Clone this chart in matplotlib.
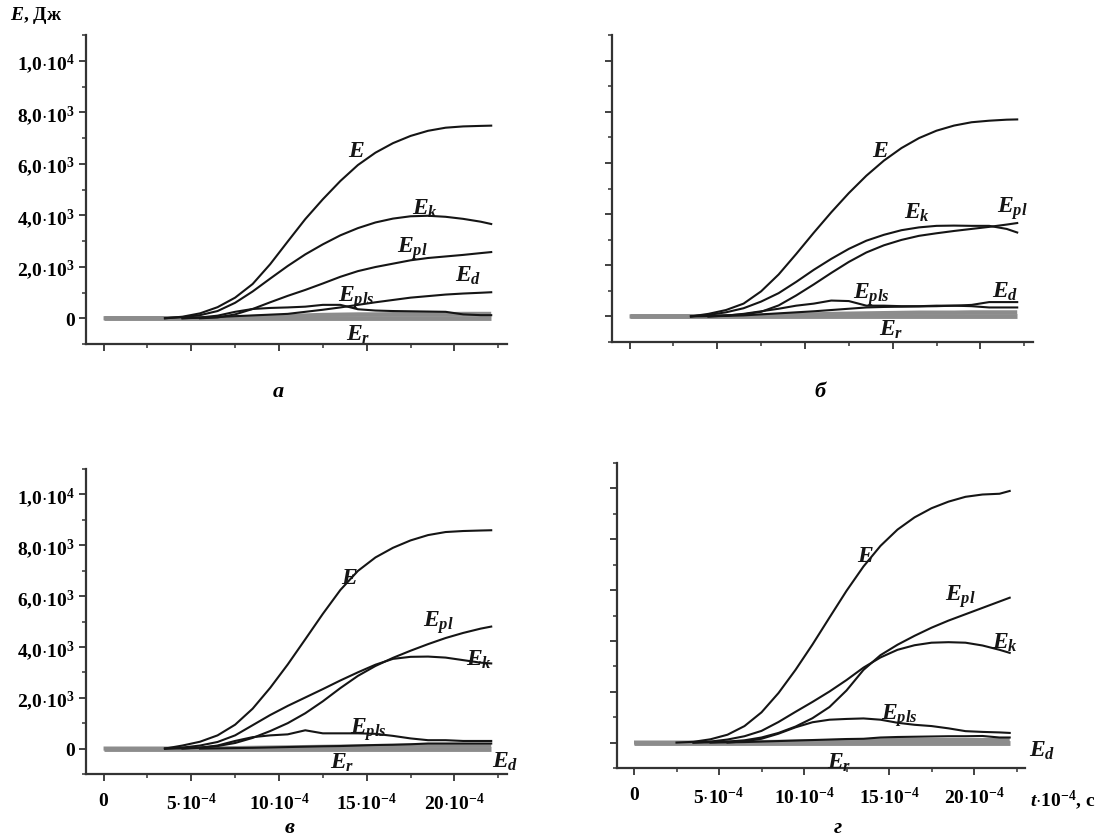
import numpy as np
import matplotlib.pyplot as plt
from matplotlib.ticker import FixedLocator, FixedFormatter, MultipleLocator

plt.rcParams['mathtext.fontset'] = 'custom'
plt.rcParams['mathtext.rm'] = 'Liberation Serif:bold'
plt.rcParams['mathtext.it'] = 'Liberation Serif:italic:bold'
plt.rcParams['mathtext.bf'] = 'Liberation Serif:bold'
plt.rcParams['font.family'] = ['Liberation Serif', 'DejaVu Serif']
plt.rcParams['font.weight'] = 'bold'

# time, 10^-4 s
t = [0, 2.5, 3.5, 4.5, 5.5, 6.5, 7.5, 8.5, 9.5, 10.5, 11.5, 12.5,
     13.5, 14.5, 15.5, 16.5, 17.5, 18.5, 19.5, 20.5, 21.5, 22.1]

# panel а
a_E = [0, 0, 0, 60, 190, 430, 800, 1330, 2100, 2980, 3850, 4620, 5330, 5950, 6430, 6800, 7080, 7280, 7400, 7450, 7470, 7480]
a_Ek = [0, 0, 0, 40, 120, 280, 600, 1040, 1540, 2030, 2480, 2870, 3220, 3500, 3720, 3870, 3960, 3980, 3940, 3860, 3750, 3660]
a_Epl = [0, 0, 0, 0, 0, 30, 150, 360, 620, 870, 1100, 1350, 1610, 1830, 1990, 2120, 2250, 2340, 2400, 2460, 2530, 2570]
a_Ed = [0, 0, 0, 0, 20, 50, 80, 110, 140, 170, 250, 330, 420, 520, 620, 710, 800, 860, 920, 960, 990, 1010]
a_Epls = [0, 0, 0, 0, 30, 100, 250, 360, 400, 420, 450, 520, 520, 350, 300, 280, 270, 260, 250, 150, 120, 120]
a_Er = [0, 0, 0, 0, 0, 10, 30, 50, 70, 90, 110, 130, 140, 150, 150, 160, 160, 160, 160, 170, 170, 170]

# panel б
b_E = [0, 0, 0, 100, 250, 500, 980, 1640, 2440, 3270, 4070, 4820, 5500, 6090, 6580, 6970, 7260, 7460, 7590, 7650, 7690, 7700]
b_Ek = [0, 0, 0, 60, 160, 320, 580, 910, 1350, 1820, 2250, 2640, 2960, 3190, 3370, 3480, 3540, 3550, 3540, 3540, 3420, 3280]
b_Epl = [0, 0, 0, 10, 40, 80, 180, 430, 820, 1250, 1700, 2130, 2500, 2780, 2990, 3150, 3250, 3340, 3420, 3500, 3590, 3650]
b_Ed = [0, 0, 0, 0, 20, 40, 80, 120, 160, 200, 250, 300, 350, 370, 380, 390, 400, 420, 450, 560, 560, 560]
b_Epls = [0, 0, 0, 0, 30, 100, 200, 300, 420, 500, 620, 600, 420, 420, 400, 400, 420, 420, 400, 350, 350, 350]
b_Er = [0, 0, 0, 0, 0, 10, 30, 50, 70, 80, 100, 110, 120, 130, 140, 150, 150, 150, 160, 160, 160, 160]

# panel в
c_E = [0, 0, 0, 120, 270, 520, 940, 1570, 2390, 3310, 4300, 5300, 6240, 6990, 7520, 7900, 8190, 8400, 8520, 8560, 8580, 8590]
c_Ek = [0, 0, 0, 40, 120, 260, 520, 920, 1320, 1680, 2010, 2340, 2680, 3000, 3300, 3530, 3610, 3620, 3580, 3480, 3380, 3350]
c_Epl = [0, 0, 0, 10, 40, 100, 220, 420, 690, 1000, 1390, 1860, 2380, 2860, 3250, 3570, 3850, 4110, 4350, 4550, 4720, 4800]
c_Ed = [0, 0, 0, 0, 0, 10, 20, 30, 45, 60, 75, 90, 100, 120, 140, 150, 170, 200, 200, 200, 200, 200]
c_Epls = [0, 0, 0, 0, 30, 120, 300, 450, 520, 560, 720, 600, 600, 600, 580, 500, 400, 330, 330, 300, 300, 300]
c_Er = [0, 0, 0, 0, 0, 10, 20, 30, 40, 50, 60, 70, 80, 90, 100, 110, 120, 120, 120, 120, 120, 120]

# panel г
d_E = [0, 0, 30, 130, 310, 650, 1190, 1950, 2860, 3860, 4920, 5970, 6930, 7740, 8380, 8860, 9220, 9480, 9670, 9760, 9790, 9900]
d_Ek = [0, 0, 0, 40, 120, 250, 460, 810, 1210, 1600, 2010, 2460, 2950, 3350, 3650, 3830, 3930, 3950, 3930, 3820, 3650, 3530]
d_Epl = [0, 0, 0, 10, 40, 90, 200, 380, 630, 960, 1400, 2050, 2860, 3440, 3850, 4200, 4520, 4800, 5050, 5300, 5550, 5700]
d_Ed = [0, 0, 0, 0, 10, 20, 40, 60, 80, 100, 120, 140, 150, 200, 220, 230, 240, 250, 250, 260, 200, 200]
d_Epls = [0, 0, 0, 0, 0, 50, 150, 350, 600, 800, 900, 930, 950, 900, 780, 700, 650, 560, 450, 420, 400, 380]
d_Er = [0, 0, 0, 0, 0, 10, 20, 30, 40, 50, 60, 70, 80, 90, 100, 100, 100, 100, 100, 100, 100, 100]

names = ['$E$', '$E_k$', '$E_{pl}$', '$E_d$', '$E_{pls}$', '$E_r$']
y_ticks = [0, 2000, 4000, 6000, 8000, 10000]
y_ticklabels = ['0', '$2{,}0{\\cdot}10^{3}$', '$4{,}0{\\cdot}10^{3}$', '$6{,}0{\\cdot}10^{3}$',
                '$8{,}0{\\cdot}10^{3}$', '$1{,}0{\\cdot}10^{4}$']
x_ticks = [0, 5, 10, 15, 20]
x_ticklabels = ['0', '$5{\\cdot}10^{-4}$', '$10{\\cdot}10^{-4}$', '$15{\\cdot}10^{-4}$', '$20{\\cdot}10^{-4}$']

W, H = 1104, 837
fig = plt.figure(figsize=(W / 100, H / 100), dpi=100)


def panel(l, tp, r, b, series, label_pos, show_x, show_y):
    ax = fig.add_axes([l / W, 1 - b / H, (r - l) / W, (b - tp) / H])
    E, Ek, Epl, Ed, Epls, Er = series
    tt = np.array(t)
    ax.plot(tt, np.zeros_like(tt), color='#8c8c8c', lw=3.5, solid_capstyle='butt')
    ax.plot(tt, Er, color='#8c8c8c', lw=3.0, solid_capstyle='butt')
    for s in [Ed, Epls, Epl, Ek, E]:
        s = np.array(s)
        i0 = max(np.argmax(s > 0) - 1, 0)
        ax.plot(tt[i0:], s[i0:], color='#151515', lw=1.5)
    for name, (x, y) in zip(names, label_pos):
        ax.text(x, y, name, fontsize=17, ha='center', va='center', color='#151515')
    ax.set_xlim(-1, 23)
    ax.set_ylim(-1000, 11000)
    for sp in ['top', 'right']:
        ax.spines[sp].set_visible(False)
    for sp in ['left', 'bottom']:
        ax.spines[sp].set_linewidth(1.6)
        ax.spines[sp].set_color('#333333')
    ax.xaxis.set_major_locator(FixedLocator(x_ticks))
    ax.xaxis.set_minor_locator(MultipleLocator(2.5))
    ax.yaxis.set_major_locator(FixedLocator(y_ticks))
    ax.yaxis.set_minor_locator(MultipleLocator(1000))
    ax.tick_params(which='major', direction='out', length=5, width=1.3, color='#333333', labelsize=14)
    ax.tick_params(which='minor', direction='out', length=3, width=1.1, color='#333333')
    if show_x:
        ax.xaxis.set_major_formatter(FixedFormatter(x_ticklabels))
        ax.tick_params(axis='x', pad=8)
    else:
        ax.set_xticklabels([])
    if show_y:
        ax.yaxis.set_major_formatter(FixedFormatter(y_ticklabels))
        ax.tick_params(axis='y', pad=3)
    else:
        ax.set_yticklabels([])
    return ax


panel(86, 36, 507, 345, [a_E, a_Ek, a_Epl, a_Ed, a_Epls, a_Er],
      [(14.4, 6500), (18.3, 4300), (17.6, 2750), (20.8, 1700), (14.4, 850), (14.5, -600)], False, True)
panel(612, 36, 1033, 343, [b_E, b_Ek, b_Epl, b_Ed, b_Epls, b_Er],
      [(14.3, 6500), (16.4, 4100), (21.8, 4250), (21.4, 980), (13.8, 900), (14.9, -480)], False, False)
panel(86, 470, 507, 775, [c_E, c_Ek, c_Epl, c_Ed, c_Epls, c_Er],
      [(14.0, 6750), (21.4, 3550), (19.1, 5000), (22.9, -480), (15.1, 800), (13.6, -520)], True, True)
panel(617, 464, 1025, 769, [d_E, d_Ek, d_Epl, d_Ed, d_Epls, d_Er],
      [(13.6, 7350), (21.8, 3950), (19.2, 5800), (24.0, -280), (15.6, 1100), (12.1, -750)], True, False)

cap = dict(fontsize=16, style='italic', weight='bold', ha='center', va='center')
fig.text(278 / W, 1 - 392 / H, 'а', **cap)
fig.text(820 / W, 1 - 392 / H, 'б', **cap)
fig.text(290 / W, 1 - 828 / H, 'в', **cap)
fig.text(838 / W, 1 - 828 / H, 'г', **cap)
fig.text(10 / W, 1 - 15 / H, '$E$, Дж', fontsize=14, ha='left', va='center')
fig.text(1030 / W, 1 - 800 / H, '$t{\\cdot}10^{-4}$, c', fontsize=14, ha='left', va='center')

plt.savefig('out.png', dpi=100)
